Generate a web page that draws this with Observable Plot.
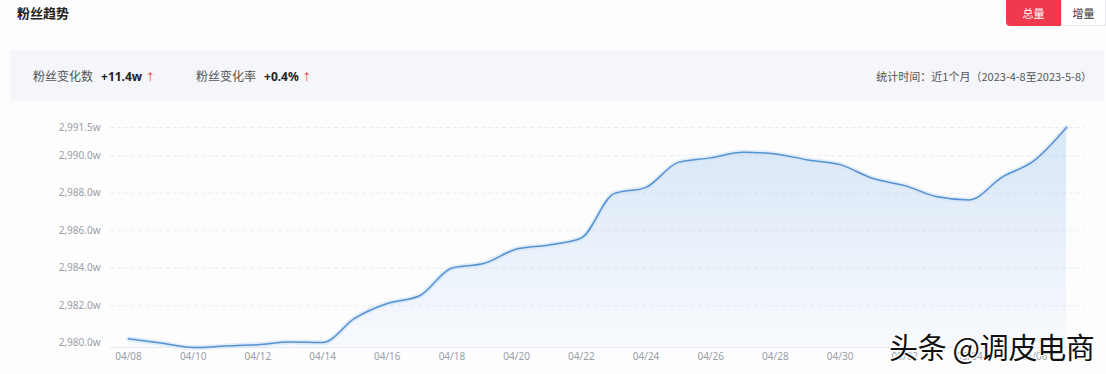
<!DOCTYPE html>
<html><head><meta charset="utf-8">
<script src="https://cdn.jsdelivr.net/npm/d3@7"></script>
<script src="https://cdn.jsdelivr.net/npm/@observablehq/plot@0.6"></script>
<style>
body{margin:0;width:1106px;height:374px;overflow:hidden;background:#fdfdfe;font-family:"Noto Sans CJK SC","Noto Sans",sans-serif;position:relative}
#title{position:absolute;left:17px;top:3px;font-size:13px;font-weight:bold;color:#222}
#btns{position:absolute;left:1006px;top:0;height:26px;display:flex;font-size:11px}
#btns span{display:block;height:26px;line-height:26px;text-align:center}
#btns .on{width:55px;background:#ee3a4c;color:#fff;border-radius:0 0 0 4px}
#btns .off{width:45px;background:#fff;color:#333;border:1px solid #e6e8ec;border-top:none;box-sizing:border-box}
#bar{position:absolute;left:10px;top:50px;width:1094px;height:51px;background:#f4f6f9}
.lab{position:absolute;top:17px;font-size:12px;color:#555}
.val{font-weight:bold;color:#222;margin-left:8px;font-family:"Noto Sans",sans-serif}
.up{color:#e8374a;font-size:10px;margin-left:3px}
#range{position:absolute;right:12px;top:18px;font-size:11px;color:#555}
#chart{position:absolute;left:0;top:110px}
#wm{position:absolute;left:889px;top:325px;font-size:29px;color:#111;letter-spacing:-0.3px;
 text-shadow:0 0 2px #fff,0 0 2px #fff,1px 1px 0 #fff,-1px -1px 0 #fff,1px -1px 0 #fff,-1px 1px 0 #fff}
</style></head><body>
<div id="title">粉丝趋势</div>
<div id="btns"><span class="on">总量</span><span class="off">增量</span></div>
<div id="bar">
 <div class="lab" style="left:23px">粉丝变化数<span class="val">+11.4w</span><span class="up">↑</span></div>
 <div class="lab" style="left:186px">粉丝变化率<span class="val">+0.4%</span><span class="up">↑</span></div>
 <div id="range">统计时间：近1个月（2023-4-8至2023-5-8）</div>
</div>
<div id="chart"></div>
<div id="wm">头条 @调皮电商</div>
<script>
const dates = ["2023-04-08","2023-04-09","2023-04-10","2023-04-11","2023-04-12","2023-04-13","2023-04-14","2023-04-15","2023-04-16","2023-04-17",
"2023-04-18","2023-04-19","2023-04-20","2023-04-21","2023-04-22","2023-04-23","2023-04-24","2023-04-25","2023-04-26","2023-04-27",
"2023-04-28","2023-04-29","2023-04-30","2023-05-01","2023-05-02","2023-05-03","2023-05-04","2023-05-05","2023-05-06","2023-05-07"];
// fans, in units of 万 (w)
const fans = [2980.24,2980.01,2979.77,2979.85,2979.92,2980.06,2980.03,2981.34,2982.12,2982.53,
2984.01,2984.26,2985.02,2985.24,2985.61,2987.96,2988.31,2989.64,2989.88,2990.18,
2990.09,2989.77,2989.52,2988.79,2988.40,2987.81,2987.64,2988.84,2989.73,2991.5];
const yTicks = [2980,2982,2984,2986,2988,2990,2991.5];
const xTickDates = ["2023-04-08","2023-04-10","2023-04-12","2023-04-14","2023-04-16","2023-04-18","2023-04-20","2023-04-22","2023-04-24","2023-04-26","2023-04-28","2023-04-30","2023-05-02","2023-05-04","2023-05-06"];
const yMin = 2979.77, yMax = 2991.5;

const data = dates.map((d,i)=>({date:new Date(d+"T00:00:00Z"), v:fans[i]}));
const fmtY = v => d3.format(",.1f")(v) + "w";
const fmtX = d3.utcFormat("%m/%d");

const plot = Plot.plot({
  width:1106, height:264,
  marginLeft:110, marginRight:21, marginTop:17, marginBottom:27,
  insetLeft:18, insetRight:19,
  style:{background:"transparent", fontFamily:"'Noto Sans','DejaVu Sans',sans-serif"},
  x:{type:"utc", domain:[data[0].date, data[data.length-1].date], label:null},
  y:{domain:[yMin,yMax], label:null},
  marks:[
    Plot.gridY(yTicks.slice(1), {stroke:"#e9ecf1", strokeOpacity:1, strokeDasharray:"4,3"}),
    Plot.ruleY([yMin], {stroke:"#e6e9ee"}),
    Plot.areaY(data, {x:"date", y1:yMin, y2:"v", fill:"url(#fillg)", curve:"monotone-x"}),
    Plot.lineY(data, {x:"date", y:"v", stroke:"#d3e4f6", strokeWidth:5, strokeOpacity:0.7, curve:"monotone-x"}),
    Plot.lineY(data, {x:"date", y:"v", stroke:"#5592d2", strokeWidth:1.5, curve:"monotone-x"}),
    Plot.axisY({ticks:yTicks, tickFormat:fmtY, tickSize:0, tickPadding:10, fontSize:10, color:"#9a9ea6", anchor:"left"}),
    Plot.axisX({ticks:xTickDates.map(d=>new Date(d+"T00:00:00Z")), tickFormat:fmtX, tickSize:0, tickPadding:5, fontSize:10, color:"#9a9ea6"})
  ]
});
const svg = d3.select(plot);
const defs = svg.insert("defs", ":first-child");
const g = defs.append("linearGradient").attr("id","fillg").attr("x1",0).attr("y1",0).attr("x2",0).attr("y2",1);
g.append("stop").attr("offset","0%").attr("stop-color","#7fb0e6").attr("stop-opacity",0.3);
g.append("stop").attr("offset","100%").attr("stop-color","#7fb0e6").attr("stop-opacity",0.04);
document.getElementById("chart").appendChild(plot);
</script>
</body></html>
